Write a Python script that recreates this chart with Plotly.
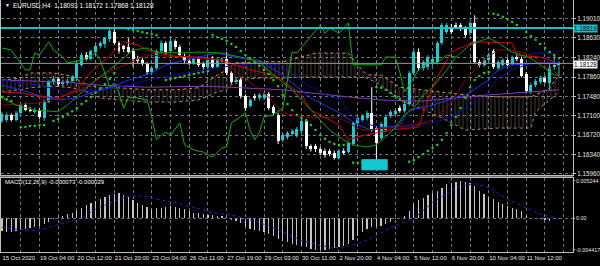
import plotly.graph_objects as go

# ---------------- data ----------------
bars = list(range(120))
opens = [1.1700,1.1702,1.1711,1.1702,1.1716,1.1731,1.1722,1.1718,1.1722,1.1706,
         1.1738,1.1776,1.1782,1.1772,1.1775,1.1779,1.1785,1.1810,1.1829,1.1822,
         1.1835,1.1847,1.1850,1.1860,1.1874,1.1852,1.1846,1.1845,1.1838,1.1822,
         1.1820,1.1812,1.1795,1.1803,1.1837,1.1852,1.1837,1.1856,1.1845,1.1828,
         1.1818,1.1813,1.1822,1.1812,1.1806,1.1822,1.1806,1.1820,1.1822,1.1793,
         1.1777,1.1781,1.1748,1.1730,1.1748,1.1744,1.1745,1.1753,1.1727,1.1712,
         1.1663,1.1668,1.1675,1.1671,1.1680,1.1700,1.1650,1.1650,1.1645,1.1642,
         1.1641,1.1638,1.1628,1.1641,1.1640,1.1655,1.1695,1.1702,1.1705,1.1716,
         1.1686,1.1667,1.1682,1.1710,1.1714,1.1726,1.1720,1.1733,1.1794,1.1836,
         1.1803,1.1805,1.1812,1.1815,1.1853,1.1874,1.1885,1.1888,1.1888,1.1882,
         1.1872,1.1892,1.1816,1.1810,1.1820,1.1837,1.1803,1.1810,1.1819,1.1812,
         1.1826,1.1822,1.1792,1.1757,1.1770,1.1776,1.1785,1.1775,1.1806,1.18093]
highs = [1.1718,1.1716,1.1715,1.1720,1.1735,1.1736,1.1727,1.1726,1.1725,1.1742,
         1.1780,1.1788,1.1786,1.1780,1.1782,1.1790,1.1815,1.1833,1.1835,1.1840,
         1.1850,1.1856,1.1865,1.1883,1.1880,1.1856,1.1849,1.1862,1.1842,1.1828,
         1.1825,1.1815,1.1808,1.1840,1.1858,1.1856,1.1862,1.1860,1.1849,1.1832,
         1.1822,1.1826,1.1826,1.1816,1.1824,1.1827,1.1824,1.1824,1.1835,1.1797,
         1.1785,1.1785,1.1752,1.1745,1.1753,1.1755,1.1757,1.1757,1.1731,1.1716,
         1.1676,1.1680,1.1684,1.1688,1.1705,1.1704,1.1654,1.1655,1.1649,1.1646,
         1.1645,1.1642,1.1645,1.1646,1.1660,1.1699,1.1710,1.1713,1.1720,1.1766,
         1.1690,1.1698,1.1712,1.1721,1.1723,1.1730,1.1737,1.1798,1.1840,1.1842,
         1.1819,1.1829,1.1826,1.1857,1.1892,1.1892,1.1890,1.1893,1.1892,1.1886,
         1.1896,1.1907,1.1820,1.1824,1.1834,1.1841,1.1819,1.1823,1.1823,1.1828,
         1.1830,1.1826,1.1796,1.1775,1.1782,1.1789,1.1789,1.1813,1.1830,1.18172]
lows = [1.1696,1.1698,1.1699,1.1699,1.1713,1.1719,1.1717,1.1714,1.1703,1.1700,
        1.1735,1.1771,1.1768,1.1768,1.1771,1.1774,1.1778,1.1806,1.1818,1.1818,
        1.1828,1.1842,1.1843,1.1855,1.1850,1.1832,1.1835,1.1832,1.1806,1.1812,
        1.1808,1.1790,1.1790,1.1800,1.1832,1.1830,1.1833,1.1840,1.1826,1.1814,
        1.1809,1.1810,1.1806,1.1800,1.1802,1.1802,1.1803,1.1815,1.1790,1.1773,
        1.1772,1.1744,1.1720,1.1726,1.1740,1.1740,1.1741,1.1721,1.1712,1.1655,
        1.1658,1.1664,1.1671,1.1667,1.1676,1.1645,1.1640,1.1639,1.1633,1.1628,
        1.1631,1.1624,1.1624,1.1634,1.1636,1.1651,1.1690,1.1698,1.1701,1.1679,
        1.1618,1.1662,1.1678,1.1706,1.1710,1.1716,1.1716,1.1729,1.1790,1.1798,
        1.1798,1.1800,1.1808,1.1811,1.1849,1.1870,1.1870,1.1880,1.1876,1.1864,
        1.1868,1.1812,1.1805,1.1806,1.1816,1.1802,1.1799,1.1806,1.1806,1.1808,
        1.1817,1.1785,1.1754,1.1753,1.1766,1.1772,1.1773,1.1760,1.1800,1.17868]
closes = [1.1714,1.1712,1.1702,1.1716,1.1731,1.1722,1.1720,1.1722,1.1707,1.1738,
          1.1776,1.1783,1.1772,1.1776,1.1779,1.1787,1.1812,1.1829,1.1822,1.1837,
          1.1847,1.1853,1.1862,1.1876,1.1853,1.1838,1.1840,1.1836,1.1822,1.1817,
          1.1812,1.1795,1.1803,1.1837,1.1852,1.1835,1.1857,1.1845,1.1830,1.1818,
          1.1813,1.1822,1.1810,1.1805,1.1820,1.1806,1.1820,1.1818,1.1793,1.1777,
          1.1781,1.1748,1.1725,1.1741,1.1744,1.1750,1.1753,1.1725,1.1716,1.1660,
          1.1672,1.1676,1.1680,1.1684,1.1700,1.1650,1.1645,1.1644,1.1638,1.1633,
          1.1636,1.1628,1.1641,1.1638,1.1656,1.1695,1.1706,1.1709,1.1716,1.1683,
          1.1657,1.1694,1.1708,1.1717,1.1719,1.1720,1.1733,1.1794,1.1836,1.1803,
          1.1815,1.1825,1.1822,1.1853,1.1888,1.1888,1.1875,1.1884,1.1880,1.1869,
          1.1892,1.1816,1.1810,1.1820,1.1830,1.1806,1.1815,1.1819,1.1810,1.1824,
          1.1821,1.1789,1.1758,1.1771,1.1778,1.1785,1.1777,1.1806,1.1809,1.18128]

date_labels = ["15 Oct 2020", "19 Oct 04:00", "20 Oct 12:00", "21 Oct 20:00",
               "23 Oct 04:00", "26 Oct 11:00", "27 Oct 19:00", "29 Oct 03:00",
               "30 Oct 11:00", "2 Nov 20:00", "4 Nov 04:00", "5 Nov 12:00",
               "6 Nov 20:00", "10 Nov 04:00", "11 Nov 12:00"]
price_ticks = [1.19010, 1.18630, 1.18240, 1.17860, 1.17480, 1.17100, 1.16720, 1.16340, 1.15960]
macd_ticks = [0.005244, 0.0, -0.004417]
macd_tick_text = ["0.005244", "0.00", "-0.004417"]

hline_price = 1.18819
rect_bars = [76.9, 82.3]
rect_prices = [1.1604, 1.1624]

osc_bars = [0,2,5,6,7,8,10,11,13,14,17,19,20,21,22,23,24,25,26,27,28,31,32,33,34,35,36,38,39,41,
            43,45,47,48,49,51,52,53,54,55,56,58,60,62,63,68,69,70,72,73,74,75,79,81,82,84,85,86,87,89,
            91,93,95,97]
osc_prices = [1.1843,1.1839,1.1800,1.1800,1.1833,1.1829,1.1855,1.1839,1.1825,1.1814,
              1.1819,1.1829,1.1833,1.1819,1.1794,1.1767,1.1774,1.1755,1.1725,1.1745,
              1.1747,1.1741,1.1708,1.1663,1.1672,1.1678,1.1672,1.1696,1.1653,1.1643,
              1.1639,1.1629,1.1647,1.1649,1.1696,1.1708,1.1716,1.1682,1.1663,1.1677,
              1.1708,1.1712,1.1725,1.1835,1.1833,1.1888,1.1872,1.1882,1.1872,1.1882,
              1.1892,1.1810,1.1810,1.1810,1.1825,1.1825,1.1796,1.1757,1.1770,1.1800,
              1.1814,1.1814,1.1829,1.1825]
ma_bars = [0,3,7,12,14,17,20,23,28,31,33,38,42,47,51,55,58,62,64,66,68,70,73,75,78,80,82,84,86,88,
           90,92,95,97,100,104,106,109,113,116,118,119]
ma_prices = [1.1745,1.1731,1.1721,1.1718,1.1731,1.1755,1.1780,1.1800,1.1839,1.1843,
             1.1835,1.1833,1.1835,1.1833,1.1825,1.1815,1.1790,1.1761,1.1741,1.1721,
             1.1702,1.1682,1.1663,1.1653,1.1649,1.1653,1.1669,1.1686,1.1712,1.1725,
             1.1751,1.1766,1.1800,1.1825,1.1849,1.1863,1.1853,1.1835,1.1823,1.1804,
             1.1790,1.1790]
red_bars = [0,4,9,12,16,19,22,25,26,29,32,37,42,47,49,53,56,59,64,66,72,74,76,80,83,87,89,92,96,101,
            109,110,115,118,119]
red_prices = [1.1757,1.1755,1.1747,1.1745,1.1761,1.1796,1.1819,1.1845,1.1855,1.1849,
              1.1835,1.1827,1.1825,1.1819,1.1813,1.1800,1.1794,1.1786,1.1751,1.1721,
              1.1692,1.1663,1.1669,1.1676,1.1682,1.1686,1.1688,1.1767,1.1835,1.1855,
              1.1853,1.1829,1.1825,1.1816,1.1805]
dred_bars = [0,8,12,17,23,31,40,47,51,57,60,64,72,77,83,90,92,96,99,103,106,109,113,118,119]
dred_prices = [1.1731,1.1735,1.1745,1.1761,1.1796,1.1829,1.1825,1.1819,1.1790,1.1747,
               1.1716,1.1708,1.1706,1.1682,1.1686,1.1696,1.1702,1.1735,1.1780,1.1819,
               1.1839,1.1839,1.1829,1.1796,1.1790]
blue_bars = [0,4,9,12,16,19,23,27,32,35,39,46,51,55,60,66,72,76,79,85,87,92,99,104,106,109,115,119]
blue_prices = [1.1770,1.1761,1.1747,1.1741,1.1745,1.1755,1.1765,1.1780,1.1794,1.1810,
               1.1819,1.1833,1.1823,1.1819,1.1790,1.1745,1.1716,1.1692,1.1682,1.1692,
               1.1721,1.1731,1.1751,1.1780,1.1800,1.1810,1.1813,1.1813]
navy_bars = [0,8,14,21,27,31,37,43,49,55,59,63,66,70,72,74,76,80,85,92,96,103,106,109,113,119]
navy_prices = [1.1780,1.1770,1.1757,1.1761,1.1770,1.1780,1.1790,1.1800,1.1808,1.1813,
               1.1810,1.1786,1.1767,1.1747,1.1745,1.1718,1.1702,1.1688,1.1686,1.1696,
               1.1708,1.1747,1.1784,1.1800,1.1813,1.1815]
kij_bars = [113, 118]
kij_prices = [1.1833, 1.1833]
purple_bars = [0,14,21,31,44,60,74,81,90,104,119]
purple_prices = [1.1780,1.1776,1.1770,1.1766,1.1768,1.1761,1.1747,1.1741,1.1739,1.1751,1.1761]

cloud_bars = [0,4,6,11,15,18,21,25,31,37,42,46,48,50,55,60,63,67,74,76,78,81,85,90,94,99,106,113,114,117,119]
cloud_upper = [1.1780,1.1784,1.1794,1.1794,1.1788,1.1770,1.1765,1.1765,1.1761,1.1761,
               1.1765,1.1790,1.1800,1.1814,1.1816,1.1816,1.1823,1.1833,1.1833,1.1810,
               1.1790,1.1790,1.1766,1.1761,1.1757,1.1751,1.1747,1.1747,1.1751,1.1765,1.1790]
cloud_lower = [1.1757,1.1761,1.1765,1.1768,1.1765,1.1757,1.1745,1.1741,1.1737,1.1737,
               1.1741,1.1757,1.1761,1.1780,1.1784,1.1784,1.1786,1.1786,1.1786,1.1786,
               1.1784,1.1770,1.1741,1.1721,1.1706,1.1682,1.1686,1.1686,1.1718,1.1741,1.1757]

sar_bars = [0,1,2,4,5,6,7,8,9,11,12,13,14,15,16,17,18,19,20,21,22,23,24,26,27,28,29,30,31,32,33,
            35,36,37,38,39,40,41,42,43,44,45,46,47,48,49,50,51,52,53,54,55,56,57,58,59,60,61,62,63,
            64,65,66,67,68,69,70,71,72,73,75,76,77,78,79,80,81,82,83,84,85,86,87,88,89,90,91,92,93,
            94,95,96,97,98,99,100,101,102,103,104,105,106,107,108,109,110,111,112,113,114,115,116,
            117,118,119]
sar_prices = [1.1747,1.1743,1.1739,1.1688,1.1688,1.1690,1.1690,1.1692,1.1692,1.1700,1.1704,
              1.1708,1.1714,1.1719,1.1725,1.1733,1.1739,1.1747,1.1755,1.1763,1.1772,1.1782,
              1.1794,1.1882,1.1880,1.1878,1.1876,1.1874,1.1872,1.1870,1.1868,
              1.1780,1.1782,1.1784,1.1786,1.1788,1.1790,1.1792,1.1794,1.1796,1.1798,
              1.1868,1.1864,1.1861,1.1857,1.1851,1.1845,1.1837,1.1829,1.1823,1.1815,
              1.1808,1.1800,1.1792,1.1780,1.1768,1.1751,1.1733,1.1721,1.1712,1.1706,
              1.1700,1.1692,1.1682,1.1672,1.1665,1.1659,1.1655,1.1653,1.1653,
              1.1618,1.1618,1.1619,1.1621,1.1623,1.1766,1.1765,1.1761,1.1755,1.1749,
              1.1743,1.1737,1.1620,1.1623,1.1629,1.1635,1.1641,1.1647,1.1653,1.1663,
              1.1676,1.1692,1.1708,1.1725,1.1745,1.1766,1.1780,1.1788,1.1794,1.1796,
              1.1910,1.1908,1.1904,1.1900,1.1894,1.1888,1.1882,1.1874,1.1866,1.1859,
              1.1851,1.1843,1.1835,1.1829,1.1823]

macd_hist = [-0.00171,-0.00195,-0.00185,-0.00171,-0.00157,-0.00149,-0.00139,-0.00125,-0.00111,-0.00079,
             -0.00056,-0.00010,0.00014,0.00037,0.00060,0.00083,0.00121,0.00153,0.00185,0.00223,
             0.00245,0.00278,0.00306,0.00324,0.00338,0.00352,0.00334,0.00306,0.00259,0.00223,
             0.00185,0.00167,0.00139,0.00153,0.00153,0.00167,0.00177,0.00167,0.00153,0.00129,
             0.00107,0.00083,0.00070,0.00060,0.00046,0.00046,0.00037,0.00028,0.00014,-0.00018,
             -0.00032,-0.00065,-0.00125,-0.00149,-0.00157,-0.00171,-0.00185,-0.00218,-0.00241,-0.00287,
             -0.00310,-0.00334,-0.00356,-0.00370,-0.00380,-0.00403,-0.00426,-0.00435,-0.00440,-0.00435,
             -0.00426,-0.00417,-0.00403,-0.00380,-0.00356,-0.00296,-0.00241,-0.00195,-0.00149,-0.00125,
             -0.00125,-0.00111,-0.00079,-0.00056,-0.00010,0.00000,0.00028,0.00107,0.00199,0.00255,
             0.00292,0.00324,0.00352,0.00384,0.00431,0.00477,0.00501,0.00515,0.00523,0.00515,
             0.00501,0.00454,0.00384,0.00338,0.00301,0.00269,0.00232,0.00209,0.00177,0.00153,
             0.00139,0.00107,0.00037,0.00010,0.00000,-0.00010,-0.00018,-0.00032,-0.00010,-0.000073]
sig_bars = [0,4,8,10,14,17,20,24,27,30,33,37,41,45,50,53,57,61,63,64,68,72,76,80,84,88,92,97,101,104,
            108,112,115,118,119]
sig_vals = [-0.00125,-0.00157,-0.00171,-0.00125,-0.00054,0.0,0.00129,0.00245,0.00306,0.00316,
            0.00269,0.00223,0.00153,0.00083,0.00037,-0.00018,-0.00102,-0.00218,-0.00287,-0.00310,
            -0.00380,-0.00412,-0.00356,-0.00241,-0.00102,0.0,0.00223,0.00431,0.00491,0.00431,
            0.00269,0.00153,0.00060,0.00014,-0.000029]

# ---------------- styling ----------------
FONT = "Liberation Sans, Arial, sans-serif"
BULL = "#1ECBD0"
BEAR = "#FFFFFF"
GRID = "#6A7888"
FRAME = "#BDBDBD"
XD = [1 / 600, 573 / 600]
XR = [-0.21, 122.0]
MAIN_DOM = [1 - 175 / 266, 1.0]
MACD_DOM = [1 - 252 / 266, 1 - 178 / 266]

fig = go.Figure()

# Ichimoku cloud
fig.add_trace(go.Scatter(x=cloud_bars, y=cloud_lower, mode="lines",
                         line=dict(color="#B8866A", width=1, dash="dot"), hoverinfo="skip"))
fig.add_trace(go.Scatter(x=cloud_bars, y=cloud_upper, mode="lines", fill="tonexty",
                         fillcolor="rgba(0,0,0,0)",
                         fillpattern=dict(shape="|", fgcolor="#9E8270", bgcolor="rgba(0,0,0,0)",
                                          size=4, solidity=0.22),
                         line=dict(color="#E3944E", width=1, dash="dot"), hoverinfo="skip"))

# candles: wicks
def wick_xy(sel):
    xs, ys = [], []
    for i in sel:
        xs += [bars[i], bars[i], None]
        ys += [lows[i], highs[i], None]
    return xs, ys

bull_idx = [i for i in bars if closes[i] >= opens[i]]
bear_idx = [i for i in bars if closes[i] < opens[i]]
wx, wy = wick_xy(bull_idx)
fig.add_trace(go.Scatter(x=wx, y=wy, mode="lines", line=dict(color=BULL, width=1), hoverinfo="skip"))
wx, wy = wick_xy(bear_idx)
fig.add_trace(go.Scatter(x=wx, y=wy, mode="lines", line=dict(color=BEAR, width=1), hoverinfo="skip"))

MINB = 0.00007
for sel, col in ((bull_idx, BULL), (bear_idx, BEAR)):
    fig.add_trace(go.Bar(
        x=[bars[i] for i in sel],
        y=[max(abs(closes[i] - opens[i]), MINB) for i in sel],
        base=[min(opens[i], closes[i]) for i in sel],
        width=0.64, marker=dict(color=col, line=dict(width=0)), hoverinfo="skip"))

# indicator lines
def line(xs, ys, color, width=1, dash=None):
    fig.add_trace(go.Scatter(x=xs, y=ys, mode="lines",
                             line=dict(color=color, width=width, dash=dash), hoverinfo="skip"))

line(purple_bars, purple_prices, "#8A3CB8")
line(navy_bars, navy_prices, "#0A0AA8")
line(blue_bars, blue_prices, "#1636FF")
line(kij_bars, kij_prices, "#1010C8")
line(dred_bars, dred_prices, "#8E0000")
line(red_bars, red_prices, "#D40000")
line(ma_bars, ma_prices, "#0A9E0A")
line(osc_bars, osc_prices, "#10B010")

fig.add_trace(go.Scatter(x=sar_bars, y=sar_prices, mode="markers",
                         marker=dict(color="#19D219", size=2.2, symbol="square", line=dict(width=0)),
                         hoverinfo="skip"))

# MACD panel
fig.add_trace(go.Bar(x=bars, y=macd_hist, width=0.26, marker=dict(color="#C4C4C4", line=dict(width=0)),
                     xaxis="x2", yaxis="y2", hoverinfo="skip"))
fig.add_trace(go.Scatter(x=sig_bars, y=sig_vals, mode="lines", line=dict(color="#2424C8", width=1, dash="dot"),
                         xaxis="x2", yaxis="y2", hoverinfo="skip"))

tick_bars = list(range(0, 121, 4))
tick_text = [date_labels[b // 8] if (b % 8 == 0 and b // 8 < len(date_labels)) else "" for b in tick_bars]

yfont = dict(family=FONT, size=6.3, color="#E8E8E8")
mfont = dict(family=FONT, size=5.4, color="#E8E8E8")
xfont = dict(family=FONT, size=6, color="#E8E8E8")
common_x = dict(domain=XD, range=XR, tickvals=tick_bars, showgrid=True, griddash="dot",
                gridcolor=GRID, gridwidth=1, zeroline=False, showline=True, linecolor=FRAME,
                mirror=True, ticks="", fixedrange=True, automargin=False)

last_close = closes[-1]

fig.update_layout(
    width=600, height=266, margin=dict(l=0, r=0, t=0, b=0, autoexpand=False),
    paper_bgcolor="black", plot_bgcolor="black", showlegend=False, barmode="overlay",
    bargap=0,
    xaxis=dict(anchor="y", showticklabels=False, **common_x),
    yaxis=dict(domain=MAIN_DOM, range=[1.1594, 1.1937], side="right", anchor="x",
               tickvals=price_ticks, ticktext=[f"{p:.5f}" for p in price_ticks],
               tickfont=yfont, ticks="outside", ticklen=2, tickcolor=FRAME,
               showgrid=True, griddash="dot", gridcolor=GRID, zeroline=False,
               showline=True, linecolor=FRAME, mirror=True, automargin=False),
    xaxis2=dict(anchor="y2", ticktext=tick_text, showticklabels=True, tickfont=xfont,
                tickangle=0, ticklabelposition="outside right", **common_x),
    yaxis2=dict(domain=MACD_DOM, range=[-0.0047, 0.00566], side="right", anchor="x2",
                tickvals=macd_ticks, ticktext=macd_tick_text, tickfont=mfont,
                ticks="outside", ticklen=1, tickcolor=FRAME, showgrid=False, zeroline=False,
                showline=True, linecolor=FRAME, mirror=True, automargin=False),
    shapes=[
        dict(type="line", xref="paper", x0=XD[0], x1=XD[1], yref="y", y0=hline_price, y1=hline_price,
             line=dict(color="#10C4CC", width=2)),
        dict(type="line", xref="paper", x0=XD[0], x1=XD[1], yref="y", y0=last_close, y1=last_close,
             line=dict(color="#9A9A9A", width=1)),
        dict(type="rect", xref="x", yref="y", x0=rect_bars[0], x1=rect_bars[1],
             y0=rect_prices[0], y1=rect_prices[1], fillcolor="#14C8CF", line=dict(color="#14C8CF", width=1)),
        dict(type="line", xref="paper", x0=XD[0], x1=XD[1], yref="y2", y0=0, y1=0,
             line=dict(color=GRID, width=1, dash="dot")),
        dict(type="line", xref="paper", x0=0, x1=XD[1], yref="paper", y0=MAIN_DOM[0] - 0.004, y1=MAIN_DOM[0] - 0.004,
             line=dict(color=FRAME, width=1)),
    ],
    annotations=[
        dict(xref="paper", yref="paper", x=3 / 600, y=1 - 5 / 266, xanchor="left", yanchor="middle",
             text="▼", showarrow=False, font=dict(family=FONT, size=5, color="#FFFFFF")),
        dict(xref="paper", yref="paper", x=11 / 600, y=1 - 5 / 266, xanchor="left", yanchor="middle",
             text="EURUSD,H4  1.18093 1.18172 1.17868 1.18128", showarrow=False,
             font=dict(family=FONT, size=6.5, color="#FFFFFF")),
        dict(xref="paper", yref="paper", x=3 / 600, y=1 - 182 / 266, xanchor="left", yanchor="middle",
             text="MACD(12,26,9) -0.000073 -0.000029", showarrow=False,
             font=dict(family=FONT, size=6, color="#FFFFFF")),
        dict(xref="paper", yref="y", x=XD[1], y=hline_price, xanchor="left", yanchor="middle",
             text=f"{hline_price:.5f}", showarrow=False, bgcolor="#10C4CC", borderpad=0,
             font=dict(family=FONT, size=6.3, color="#000000")),
        dict(xref="paper", yref="y", x=XD[1], y=last_close, xanchor="left", yanchor="middle",
             text=f"{last_close:.5f}", showarrow=False, bgcolor="#FFFFFF", borderpad=0, yshift=-1,
             font=dict(family=FONT, size=6.3, color="#000000")),
    ],
)

fig.write_html("out.html", config={"displayModeBar": False, "staticPlot": True})
